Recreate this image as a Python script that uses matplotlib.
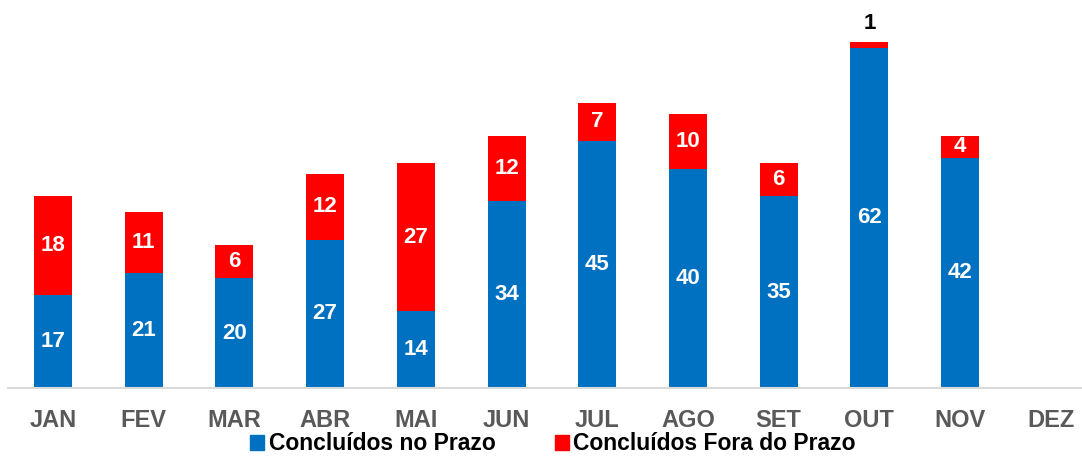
import matplotlib
matplotlib.use("Agg")
import matplotlib.pyplot as plt
from matplotlib.patches import Patch

plt.rcParams['font.family'] = ['Liberation Sans', 'DejaVu Sans']

months = ["JAN", "FEV", "MAR", "ABR", "MAI", "JUN", "JUL", "AGO", "SET", "OUT", "NOV", "DEZ"]
no_prazo = [17, 21, 20, 27, 14, 34, 45, 40, 35, 62, 42, None]
fora_prazo = [18, 11, 6, 12, 27, 12, 7, 10, 6, 1, 4, None]

blue = "#0070C0"
red = "#FF0000"

W, H = 1082, 457
fig = plt.figure(figsize=(W/100, H/100), dpi=100)
ax = fig.add_axes([7.7/W, (H-388)/H, 1088.4/W, 384/H])

x = list(range(len(months)))
bw = 0.42
for i, (a, b) in enumerate(zip(no_prazo, fora_prazo)):
    if a is None:
        continue
    ax.bar(i, a, width=bw, color=blue, zorder=2)
    ax.bar(i, b, width=bw, bottom=a, color=red, zorder=2)
    ax.text(i, a/2, str(a), ha='center', va='center', color='white',
            fontsize=16, fontweight='bold', zorder=3)
    if b <= 2:
        ax.text(i, a + b + 1.5, str(b), ha='center', va='bottom', color='black',
                fontsize=16, fontweight='bold', zorder=3)
    else:
        ax.text(i, a + b/2, str(b), ha='center', va='center', color='white',
                fontsize=16, fontweight='bold', zorder=3)

ax.set_xlim(-0.5, len(months) - 0.5)
ax.set_ylim(0, 70)
ax.set_xticks(x)
ax.set_xticklabels(months, fontsize=17, fontweight='bold', color='#595959')
ax.tick_params(axis='x', length=0, pad=15)
ax.set_yticks([])
for s in ['top', 'right', 'left']:
    ax.spines[s].set_visible(False)
ax.spines['bottom'].set_color('#D9D9D9')
ax.spines['bottom'].set_linewidth(1.5)

handles = [Patch(color=blue, label='Concluídos no Prazo'),
           Patch(color=red, label='Concluídos Fora do Prazo')]
fig.legend(handles=handles, loc='center', bbox_to_anchor=(553/W, 1 - 444/H),
           ncol=2, frameon=False, prop={'size': 16.5, 'weight': 'bold'},
           handlelength=0.6, handleheight=0.6, handletextpad=0.2, columnspacing=2.6,
           borderpad=0)

fig.savefig("out.png", dpi=100)
